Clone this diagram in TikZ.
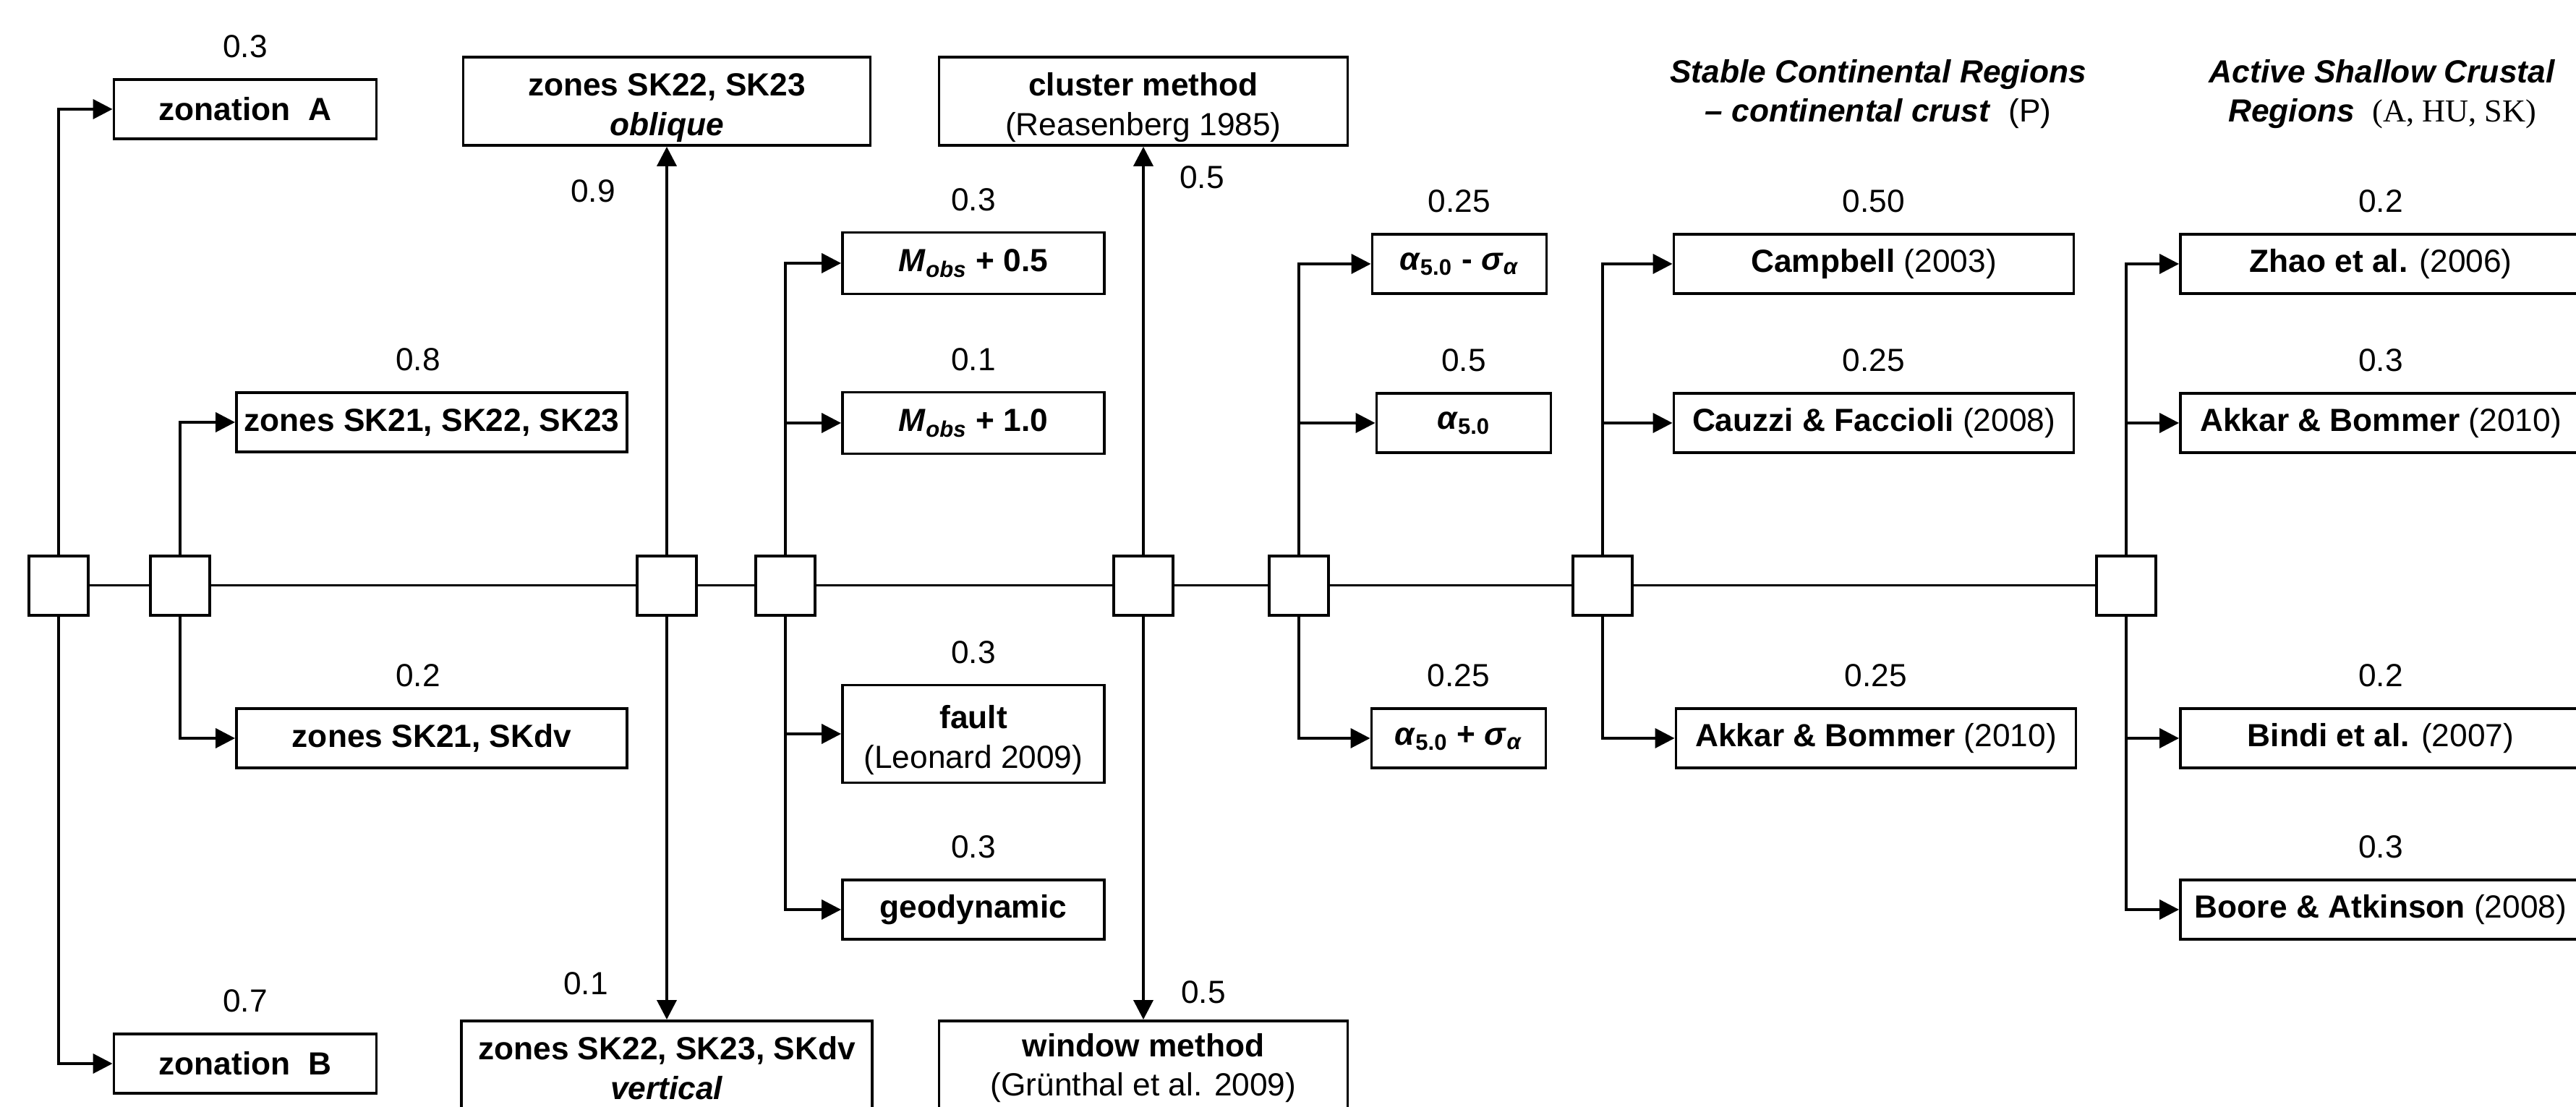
\documentclass[tikz,border=0pt]{standalone}
\usepackage{fontspec}
\setmainfont{Liberation Sans}
\newfontfamily\timesfont{Liberation Serif}
\usetikzlibrary{positioning, arrows.meta, calc}
\tikzset{
  junc/.style={rectangle, draw=black, line width=1.1pt, fill=white, minimum size=0.82cm, inner sep=0pt},
  leaf/.style={rectangle, draw=black, line width=1.1pt, fill=white, minimum height=0.82cm, inner sep=0pt, align=center, font=\fontsize{12.6}{15.5}\selectfont\bfseries},
  weight/.style={inner sep=0pt},
  link/.style={line width=0.85pt},
  arrow/.style={line width=1.1pt, -{Triangle[length=0.27cm, width=0.27cm]}}
}
\newcommand{\lowtop}{\rule{0pt}{14pt}}

\begin{document}
\begin{tikzpicture}[node distance=0.27cm, every node/.style={font=\fontsize{12.6}{15.5}\selectfont}]
            \useasboundingbox (0,0) rectangle (35.62,15.31);
            \clip (0,0) rectangle (35.62,15.31);

            % Nudos de la rama principal
            \node (j1) [junc] at (0.81,7.21) {};
            \node (j2) [junc] at (2.49,7.21) {};
            \node (j3) [junc] at (9.22,7.21) {};
            \node (j4) [junc] at (10.86,7.21) {};
            \node (j5) [junc] at (15.81,7.21) {};
            \node (j6) [junc] at (17.96,7.21) {};
            \node (j7) [junc] at (22.16,7.21) {};
            \node (j8) [junc] at (29.40,7.21) {};

            % Zonificacion
            \node (zA) [leaf, minimum width=3.63cm] at (3.39,13.80) {zonation\ \ A};
            \node (zB) [leaf, minimum width=3.63cm] at (3.39,0.60) {zonation\ \ B};
            \node (z3) [leaf, minimum width=5.40cm] at (5.97,9.47) {zones SK21, SK22, SK23};
            \node (z2) [leaf, minimum width=5.40cm] at (5.97,5.10) {zones SK21, SKdv};
            \node (obl) [leaf, minimum width=5.63cm, minimum height=1.22cm] at (9.22,13.91) {\lowtop zones SK22, SK23\\\textit{oblique}};
            \node (vert) [leaf, minimum width=5.68cm, minimum height=1.30cm] at (9.22,0.54) {zones SK22, SK23, SKdv\\\textit{vertical}};

            % Magnitud maxima
            \node (m05) [leaf, minimum width=3.62cm, minimum height=0.85cm] at (13.46,11.67) {\textit{M}\textsubscript{\textit{obs}} + 0.5};
            \node (m10) [leaf, minimum width=3.62cm, minimum height=0.85cm] at (13.46,9.46) {\textit{M}\textsubscript{\textit{obs}} + 1.0};
            \node (fault) [leaf, minimum width=3.62cm, minimum height=1.35cm] at (13.46,5.16) {\lowtop fault\\{\mdseries (Leonard 2009)}};
            \node (geo) [leaf, minimum width=3.62cm] at (13.46,2.73) {geodynamic};

            % Declustering
            \node (clu) [leaf, minimum width=5.65cm, minimum height=1.22cm] at (15.81,13.91) {\lowtop cluster method\\{\mdseries (Reasenberg 1985)}};
            \node (win) [leaf, minimum width=5.65cm, minimum height=1.30cm] at (15.81,0.54) {window method\\{\mdseries (Grünthal et al. 2009)}};

            % Parametro b
            \node (am) [leaf, minimum width=2.41cm] at (20.18,11.66) {\textit{α}\textsubscript{5.0} - \textit{σ}\textsubscript{\textit{α}}};
            \node (a0) [leaf, minimum width=2.41cm] at (20.24,9.46) {\textit{α}\textsubscript{5.0}};
            \node (ap) [leaf, minimum width=2.41cm] at (20.17,5.10) {\textit{α}\textsubscript{5.0} + \textit{σ}\textsubscript{\textit{α}}};

            % Atenuacion: regiones estables
            \node (scr) [align=center] at (25.97,14.01) {\textbf{\textit{Stable Continental Regions}}\\\textbf{\textit{– continental crust}}\ \ (P)};
            \node (camp) [leaf, minimum width=5.53cm] at (25.91,11.66) {Campbell {\mdseries (2003)}};
            \node (cauz) [leaf, minimum width=5.53cm] at (25.91,9.46) {Cauzzi \& Faccioli {\mdseries (2008)}};
            \node (akk1) [leaf, minimum width=5.53cm] at (25.94,5.10) {Akkar \& Bommer {\mdseries (2010)}};

            % Atenuacion: regiones activas
            \node (ascr) [align=center] at (32.94,14.01) {\textbf{\textit{Active Shallow Crustal}}\\\textbf{\textit{Regions}}\ \ {\timesfont (A, HU, SK)}};
            \node (zhao) [leaf, minimum width=5.54cm] at (32.92,11.66) {Zhao et al. {\mdseries (2006)}};
            \node (akk2) [leaf, minimum width=5.54cm] at (32.92,9.46) {Akkar \& Bommer {\mdseries (2010)}};
            \node (bindi) [leaf, minimum width=5.54cm] at (32.92,5.10) {Bindi et al. {\mdseries (2007)}};
            \node (boore) [leaf, minimum width=5.54cm] at (32.92,2.73) {Boore \& Atkinson {\mdseries (2008)}};

            % Pesos
            \node (wA) [weight, above=of zA] {0.3};
            \node (wB) [weight, above=of zB] {0.7};
            \node (w3) [weight, above=of z3, xshift=-0.19cm] {0.8};
            \node (w2) [weight, above=of z2, xshift=-0.19cm] {0.2};
            \node (wobl) [weight] at (8.20,12.67) {0.9};
            \node (wvert) [weight] at (8.10,1.71) {0.1};
            \node (wm05) [weight, above=of m05] {0.3};
            \node (wm10) [weight, above=of m10] {0.1};
            \node (wfault) [weight, above=of fault] {0.3};
            \node (wgeo) [weight, above=of geo] {0.3};
            \node (wclu) [weight] at (16.62,12.86) {0.5};
            \node (wwin) [weight] at (16.64,1.59) {0.5};
            \node (wam) [weight, above=of am] {0.25};
            \node (wa0) [weight, above=of a0] {0.5};
            \node (wap) [weight, above=of ap] {0.25};
            \node (wcamp) [weight, above=of camp] {0.50};
            \node (wcauz) [weight, above=of cauz] {0.25};
            \node (wakk1) [weight, above=of akk1] {0.25};
            \node (wzhao) [weight, above=of zhao] {0.2};
            \node (wakk2) [weight, above=of akk2] {0.3};
            \node (wbindi) [weight, above=of bindi] {0.2};
            \node (wboore) [weight, above=of boore] {0.3};

            % Rama principal
            \draw [link] (j1) -- (j2);
            \draw [link] (j2) -- (j3);
            \draw [link] (j3) -- (j4);
            \draw [link] (j4) -- (j5);
            \draw [link] (j5) -- (j6);
            \draw [link] (j6) -- (j7);
            \draw [link] (j7) -- (j8);

            % Ramas secundarias
            \draw [arrow] (j1) |- (zA);
            \draw [arrow] (j1) |- (zB);
            \draw [arrow] (j2) |- (z3);
            \draw [arrow] (j2) |- (z2);
            \draw [arrow] (j3) -- (obl);
            \draw [arrow] (j3) -- (vert);
            \draw [arrow] (j4) |- (m05);
            \draw [arrow] (j4) |- (m10);
            \draw [arrow] (j4) |- (fault);
            \draw [arrow] (j4) |- (geo);
            \draw [arrow] (j5) -- (clu);
            \draw [arrow] (j5) -- (win);
            \draw [arrow] (j6) |- (am);
            \draw [arrow] (j6) |- (a0);
            \draw [arrow] (j6) |- (ap);
            \draw [arrow] (j7) |- (camp);
            \draw [arrow] (j7) |- (cauz);
            \draw [arrow] (j7) |- (akk1);
            \draw [arrow] (j8) |- (zhao);
            \draw [arrow] (j8) |- (akk2);
            \draw [arrow] (j8) |- (bindi);
            \draw [arrow] (j8) |- (boore);

        \end{tikzpicture}
\end{document}
